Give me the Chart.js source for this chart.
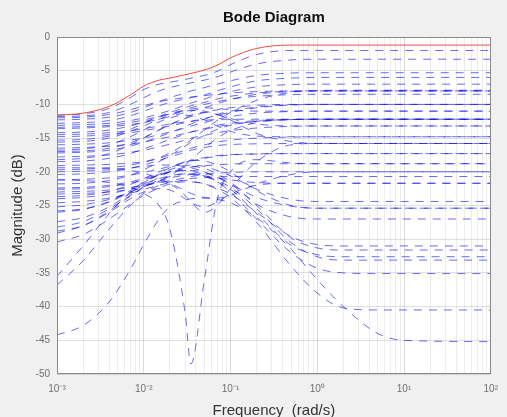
<!DOCTYPE html>
<html><head><meta charset="utf-8">
<script src="https://cdn.jsdelivr.net/npm/chart.js@4/dist/chart.umd.min.js"></script>
<style>html,body{margin:0;padding:0;background:#f0f0f0;}canvas{display:block;}</style>
</head><body>
<canvas id="c" width="507" height="417"></canvas>
<script>
// Frequencies (rad/s) at which magnitudes were read
const freqs = [0.001,0.002,0.004,0.007,0.01,0.015,0.02,0.03,0.035,0.05,0.07,0.1,0.2,0.5,1,2,5,10,100];

// Upper envelope (solid red)
const envelope = [-11.6,-11.3,-10.3,-8.6,-7.3,-6.4,-6.1,-5.6,-5.4,-4.9,-4.2,-3.1,-1.7,-1.2,-1.2,-1.2,-1.2,-1.2,-1.2];

// Individual responses (dashed blue), magnitudes in dB
const b01 = [-11.6,-11.4,-10.6,-9.0,-7.8,-7.0,-6.7,-6.3,-6.1,-5.7,-5.1,-4.1,-2.6,-2.0,-2.0,-2.0,-2.0,-2.0,-2.0];
const b02 = [-11.8,-11.7,-11.2,-10.0,-9.0,-8.0,-7.5,-7.0,-6.8,-6.4,-5.9,-5.2,-4.0,-3.4,-3.3,-3.3,-3.3,-3.3,-3.3];
const b03 = [-12.3,-12.2,-11.9,-11.2,-10.5,-9.6,-9.0,-8.3,-8.0,-7.5,-7.0,-6.5,-5.7,-5.35,-5.3,-5.3,-5.3,-5.3,-5.3];
const b04 = [-12.8,-12.7,-12.4,-11.7,-11.0,-10.2,-9.7,-9.2,-9.0,-8.6,-8.0,-7.4,-6.5,-6.1,-6.0,-6.0,-6.0,-6.0,-6.0];
const b05 = [-13.1,-13.0,-12.8,-12.4,-12.0,-11.4,-10.9,-10.1,-9.8,-9.2,-8.6,-8.1,-7.4,-7.05,-7.0,-7.0,-7.0,-7.0,-7.0];
const b06 = [-13.6,-13.5,-13.3,-13.0,-12.7,-12.2,-11.8,-11.2,-11.0,-10.5,-9.9,-9.3,-8.5,-8.1,-8.0,-8.0,-8.0,-8.0,-8.0];
const b07 = [-14.2,-14.1,-13.8,-13.2,-12.6,-11.9,-11.4,-10.8,-10.5,-10.0,-9.6,-9.2,-8.8,-8.55,-8.5,-8.5,-8.5,-8.5,-8.5];
const b08 = [-19.1,-19.0,-18.9,-18.7,-18.5,-17.9,-17.2,-15.9,-15.3,-13.8,-12.4,-11.2,-9.4,-8.2,-7.95,-7.9,-7.9,-7.9,-7.9];
const b09 = [-14.8,-14.7,-14.5,-14.2,-13.9,-13.5,-13.2,-12.7,-12.5,-12.1,-11.6,-11.2,-10.5,-10.1,-10.0,-10.0,-10.0,-10.0,-10.0];
const b10 = [-15.3,-15.2,-14.7,-13.7,-12.8,-11.8,-11.2,-10.5,-10.2,-9.7,-9.2,-8.8,-8.3,-8.05,-8.0,-8.0,-8.0,-8.0,-8.0];
const b11 = [-16.0,-15.9,-15.7,-15.3,-15.0,-14.5,-14.1,-13.5,-13.2,-12.7,-12.2,-11.8,-11.3,-11.05,-11.0,-11.0,-11.0,-11.0,-11.0];
const b12 = [-16.5,-16.4,-16.2,-15.9,-15.6,-15.1,-14.8,-14.3,-14.1,-13.7,-13.3,-13.0,-12.5,-12.25,-12.2,-12.2,-12.2,-12.2,-12.2];
const b13 = [-17.2,-17.1,-16.8,-16.2,-15.6,-14.8,-14.2,-13.3,-12.9,-12.2,-11.5,-11.0,-10.4,-10.05,-10.0,-10.0,-10.0,-10.0,-10.0];
const b14 = [-17.8,-17.7,-17.5,-17.1,-16.8,-16.3,-15.9,-15.3,-15.0,-14.6,-14.2,-13.9,-13.5,-13.25,-13.2,-13.2,-13.2,-13.2,-13.2];
const b15 = [-18.5,-18.4,-18.0,-17.3,-16.6,-15.8,-15.2,-14.4,-14.1,-13.6,-13.1,-12.8,-12.4,-12.25,-12.2,-12.2,-12.2,-12.2,-12.2];
const b16 = [-19.7,-19.6,-19.4,-19.0,-18.6,-18.0,-17.5,-16.8,-16.5,-16.0,-15.6,-15.3,-15.0,-14.85,-14.8,-14.8,-14.8,-14.8,-14.8];
const b17 = [-20.4,-20.3,-20.0,-19.5,-19.0,-18.3,-17.8,-17.1,-16.8,-16.4,-16.1,-15.95,-15.85,-15.8,-15.8,-15.8,-15.8,-15.8,-15.8];
const b18 = [-21.2,-21.1,-20.9,-20.5,-20.1,-19.6,-19.2,-18.6,-18.4,-18.0,-17.7,-17.5,-17.35,-17.3,-17.3,-17.3,-17.3,-17.3,-17.3];
const b19 = [-21.8,-21.7,-21.3,-20.5,-19.7,-18.5,-17.6,-16.2,-15.6,-14.6,-13.7,-13.1,-12.5,-12.25,-12.2,-12.2,-12.2,-12.2,-12.2];
const b20 = [-22.4,-22.3,-22.0,-21.5,-21.0,-20.4,-20.0,-19.5,-19.3,-19.1,-18.95,-18.85,-18.8,-18.8,-18.8,-18.8,-18.8,-18.8,-18.8];
const b21 = [-23.0,-22.9,-22.7,-22.3,-22.0,-21.6,-21.3,-20.9,-20.7,-20.4,-20.2,-20.1,-20.0,-20.0,-20.0,-20.0,-20.0,-20.0,-20.0];
const b22 = [-23.7,-23.5,-22.9,-21.9,-21.0,-20.0,-19.4,-18.6,-18.3,-17.9,-17.6,-17.45,-17.35,-17.3,-17.3,-17.3,-17.3,-17.3,-17.3];
const b23 = [-24.6,-24.4,-23.9,-23.2,-22.6,-22.0,-21.6,-21.2,-21.0,-20.85,-20.75,-20.7,-20.7,-20.7,-20.7,-20.7,-20.7,-20.7,-20.7];
const b24 = [-25.2,-24.9,-24.1,-23.0,-22.2,-21.4,-20.9,-20.5,-20.4,-20.6,-20.9,-21.2,-21.6,-21.7,-21.7,-21.7,-21.7,-21.7,-21.7];
const b25 = [-26.0,-25.6,-24.4,-22.8,-21.6,-20.4,-19.7,-19.1,-19.0,-19.2,-19.8,-20.6,-22.6,-24.1,-24.4,-24.4,-24.4,-24.4,-24.4];
const b26 = [-27.4,-26.8,-25.2,-23.2,-21.8,-20.3,-19.4,-18.5,-18.3,-18.4,-19.0,-20.0,-22.8,-25.0,-25.4,-25.4,-25.4,-25.4,-25.4];
const b27 = [-28.2,-27.4,-25.5,-23.5,-22.2,-20.8,-20.0,-19.3,-19.2,-19.5,-20.3,-21.5,-24.8,-26.7,-27.0,-27.0,-27.0,-27.0,-27.0];
const b28 = [-29.1,-28.0,-25.8,-23.6,-22.3,-21.2,-20.7,-20.3,-20.3,-20.6,-21.3,-22.3,-25.5,-30.5,-32.6,-33.1,-33.1,-33.1,-33.1];
const b29 = [-30.4,-29.3,-27.0,-24.8,-23.5,-22.4,-21.8,-21.5,-21.5,-21.8,-22.4,-23.3,-26.0,-29.6,-30.8,-31.0,-31.0,-31.0,-31.0];
const b30 = [-35.5,-31.0,-26.2,-23.0,-21.5,-20.5,-20.0,-19.8,-19.9,-20.5,-21.5,-23.0,-27.0,-32.0,-34.3,-35.0,-35.1,-35.1,-35.1];
const b31 = [-36.8,-33.2,-28.5,-25.0,-23.2,-22.0,-21.5,-21.3,-21.4,-21.8,-22.6,-23.8,-27.5,-34.0,-38.0,-40.2,-40.5,-40.5,-40.5];
const b32 = [-44.2,-42.8,-39.3,-34.5,-30.8,-27.0,-25.2,-24.2,-24.0,-23.9,-24.1,-24.6,-26.8,-31.5,-36.0,-40.0,-44.0,-45.0,-45.2];
const b33 = [-21.2,-21.3,-21.6,-22.3,-23.2,-25.0,-28.5,-41.0,-48.5,-36.0,-24.2,-20.0,-18.2,-18.7,-18.8,-18.8,-18.8,-18.8,-18.8];
const b34 = [-12.0,-11.9,-11.5,-10.8,-10.2,-9.6,-9.3,-9.0,-8.9,-8.7,-8.5,-8.3,-8.1,-8.0,-8.0,-8.0,-8.0,-8.0,-8.0];
const b35 = [-14.5,-14.4,-14.2,-13.9,-13.6,-13.2,-12.9,-12.6,-12.5,-12.35,-12.25,-12.2,-12.2,-12.2,-12.2,-12.2,-12.2,-12.2,-12.2];
const b36 = [-20.0,-19.9,-19.7,-19.4,-19.2,-19.0,-19.0,-19.2,-19.4,-20.0,-20.8,-21.8,-23.8,-25.1,-25.4,-25.4,-25.4,-25.4,-25.4];
const b37 = [-22.6,-22.5,-22.2,-21.7,-21.2,-20.5,-20.1,-19.8,-19.8,-20.1,-20.8,-21.8,-25.0,-29.8,-31.3,-31.6,-31.6,-31.6,-31.6];
const b38 = [-24.0,-23.8,-23.3,-22.5,-21.8,-21.0,-20.6,-20.3,-20.3,-20.7,-21.5,-22.6,-26.2,-30.9,-32.3,-32.6,-32.6,-32.6,-32.6];
const b39 = [-18.2,-18.0,-17.3,-16.0,-15.0,-13.8,-13.0,-12.1,-11.8,-11.2,-10.8,-10.5,-10.15,-10.0,-10.0,-10.0,-10.0,-10.0,-10.0];
const b40 = [-13.4,-13.3,-13.1,-12.7,-12.3,-11.8,-11.4,-10.9,-10.7,-10.5,-10.6,-10.8,-11.0,-11.0,-11.0,-11.0,-11.0,-11.0,-11.0];
const b41 = [-17.0,-16.9,-16.5,-15.7,-14.9,-13.8,-13.0,-12.0,-11.6,-11.2,-11.5,-12.3,-14.3,-15.5,-15.8,-15.8,-15.8,-15.8,-15.8];
const b42 = [-19.4,-19.4,-19.5,-19.8,-20.2,-21.0,-21.7,-22.8,-23.2,-23.8,-23.9,-23.5,-21.8,-20.4,-20.0,-20.0,-20.0,-20.0,-20.0];
const b43 = [-15.6,-15.5,-15.0,-14.0,-13.2,-12.2,-11.6,-11.0,-10.9,-11.0,-11.5,-12.1,-12.9,-13.2,-13.2,-13.2,-13.2,-13.2,-13.2];
const b44 = [-25.8,-25.5,-24.5,-23.0,-22.0,-21.5,-21.8,-23.5,-24.5,-26.0,-25.0,-22.5,-18.5,-16.0,-15.8,-15.8,-15.8,-15.8,-15.8];
const b45 = [-16.8,-16.6,-16.0,-14.8,-13.8,-12.6,-12.0,-11.6,-11.7,-12.3,-13.2,-14.0,-14.7,-14.8,-14.8,-14.8,-14.8,-14.8,-14.8];
const b46 = [-23.3,-23.2,-23.0,-22.6,-22.2,-21.4,-20.6,-19.0,-18.2,-16.5,-15.0,-13.9,-12.7,-12.25,-12.2,-12.2,-12.2,-12.2,-12.2];
const b47 = [-28.8,-28.0,-26.0,-24.0,-23.0,-22.5,-22.7,-24.0,-24.6,-25.2,-24.5,-23.3,-22.0,-21.7,-21.7,-21.7,-21.7,-21.7,-21.7];

const responses = [b01,b02,b03,b04,b05,b06,b07,b08,b09,b10,b11,b12,b13,b14,b15,b16,b17,b18,b19,b20,b21,b22,
  b23,b24,b25,b26,b27,b28,b29,b30,b31,b32,b33,b34,b35,b36,b37,b38,b39,b40,b41,b42,b43,b44,b45,b46,b47];

// Axis ticks
const xTickValues = [0.001,0.01,0.1,1,10,100];
const xTickLabels = ['10\u207B\u00B3','10\u207B\u00B2','10\u207B\u00B9','10\u2070','10\u00B9','10\u00B2'];
const yTickStep = 5;

const FONT = "'Liberation Sans', Arial, Helvetica, sans-serif";
const toPts = arr => arr.map((v, i) => ({x: freqs[i], y: v}));

const datasets = [{
  label: 'envelope', data: toPts(envelope), borderColor: 'rgba(235,60,50,0.9)', borderWidth: 1,
  pointRadius: 0, cubicInterpolationMode: 'monotone', fill: false
}];
responses.forEach((r, i) => datasets.push({
  label: 'r' + (i + 1), data: toPts(r), borderColor: 'rgba(10,10,235,0.6)', borderWidth: 1,
  borderDash: [8, 7], pointRadius: 0, cubicInterpolationMode: 'monotone', fill: false
}));

const isDecade = v => { const l = Math.log10(v); return Math.abs(l - Math.round(l)) < 1e-9; };

const frame = {
  id: 'frame',
  beforeDraw(chart) {
    const {ctx, chartArea: a, width, height} = chart;
    ctx.save();
    ctx.fillStyle = '#f0f0f0'; ctx.fillRect(0, 0, width, height);
    ctx.fillStyle = '#ffffff'; ctx.fillRect(a.left, a.top, a.right - a.left, a.bottom - a.top);
    ctx.restore();
  },
  afterDraw(chart) {
    const {ctx, chartArea: a} = chart;
    ctx.save();
    ctx.strokeStyle = '#8a8a8a'; ctx.lineWidth = 1;
    ctx.strokeRect(Math.round(a.left) + 0.5, Math.round(a.top) + 0.5,
      Math.round(a.right - a.left) - 1, Math.round(a.bottom - a.top) - 1);
    ctx.restore();
  }
};

new Chart(document.getElementById('c'), {
  type: 'line',
  data: {datasets},
  plugins: [frame],
  options: {
    responsive: false, animation: false, devicePixelRatio: 1, events: [],
    layout: {padding: {left: 0, right: 8, top: 0, bottom: 0}},
    plugins: {
      legend: {display: false}, tooltip: {enabled: false},
      title: {display: true, text: 'Bode Diagram', fullSize: false, color: '#111',
        font: {family: FONT, size: 15, weight: 'bold', lineHeight: 1.2}, padding: {top: 9, bottom: 10}}
    },
    scales: {
      x: {
        type: 'logarithmic', min: 0.001, max: 100,
        afterFit: s => { s.height = 43; },
        afterBuildTicks: s => {
          const t = [];
          for (let d = -3; d < 2; d++) for (let m = 1; m < 10; m++) t.push({value: m * Math.pow(10, d)});
          t.push({value: 100});
          s.ticks = t;
        },
        ticks: {
          autoSkip: false, maxRotation: 0, minRotation: 0, padding: 9, color: '#707070',
          font: {family: FONT, size: 10},
          callback: v => { const i = xTickValues.findIndex(x => Math.abs(x - v) / x < 1e-6); return i >= 0 ? xTickLabels[i] : ''; }
        },
        grid: {drawTicks: false, color: c => (c.tick && isDecade(c.tick.value)) ? 'rgba(0,0,0,0.14)' : 'rgba(0,0,0,0.07)'},
        border: {display: false},
        title: {display: true, text: 'Frequency  (rad/s)', color: '#333',
          font: {family: FONT, size: 15, lineHeight: 1}, padding: {top: 0, bottom: -1.5}}
      },
      y: {
        type: 'linear', min: -50, max: 0,
        afterFit: s => { s.width = 57; },
        ticks: {stepSize: yTickStep, padding: 7, color: '#707070', font: {family: FONT, size: 10}},
        grid: {drawTicks: false, color: 'rgba(0,0,0,0.12)'},
        border: {display: false},
        title: {display: true, text: 'Magnitude (dB)', color: '#333',
          font: {family: FONT, size: 15, lineHeight: 1}, padding: {top: 10.5, bottom: 0}}
      }
    }
  }
});
</script>
</body></html>
